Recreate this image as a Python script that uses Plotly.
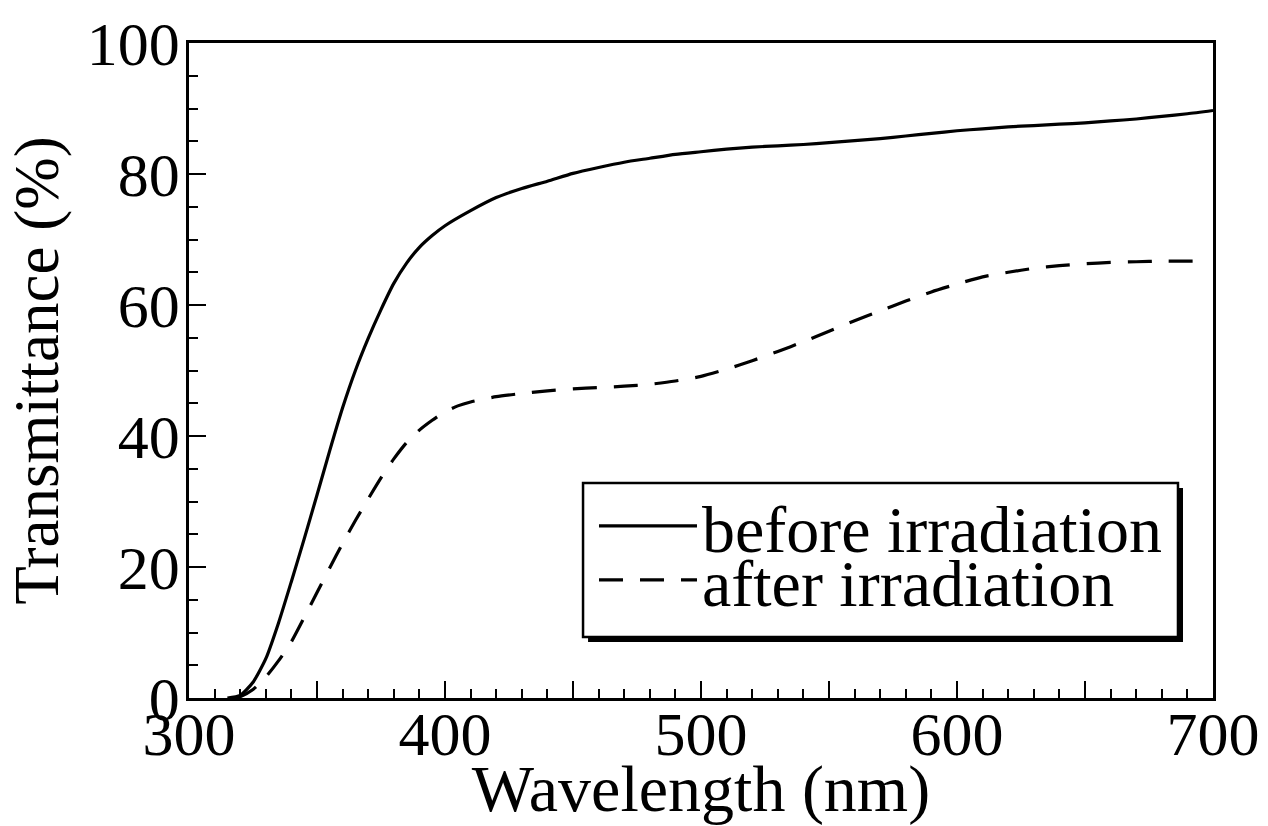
import plotly.graph_objects as go

# ---- data ----
wl_before = [315, 320, 325, 330, 335, 340, 345, 350, 355, 360, 365, 370, 375, 380,
             385, 390, 395, 400, 410, 420, 430, 440, 450, 460, 470, 480, 490, 500,
             510, 520, 530, 540, 550, 560, 570, 580, 590, 600, 610, 620, 630, 640,
             650, 660, 670, 680, 690, 700]
t_before = [0.0, 0.4, 2.4, 6.0, 11.5, 17.8, 24.3, 31.0, 37.8, 44.3, 50.0, 54.9, 59.3, 63.3,
            66.4, 68.8, 70.6, 72.1, 74.4, 76.4, 77.8, 78.9, 80.1, 81.0, 81.8, 82.4, 83.0, 83.4,
            83.8, 84.1, 84.3, 84.5, 84.8, 85.1, 85.4, 85.8, 86.2, 86.6, 86.9, 87.2, 87.4, 87.6,
            87.8, 88.1, 88.4, 88.8, 89.2, 89.7]

wl_after = [318, 320, 325, 330, 335, 340, 345, 350, 355, 360, 365, 370, 375, 380, 385,
            390, 395, 400, 405, 410, 420, 430, 440, 450, 460, 470, 480, 490, 500, 510,
            520, 530, 540, 550, 560, 570, 580, 590, 600, 610, 620, 630, 640, 650, 660,
            670, 680, 690, 695]
t_after = [0.0, 0.2, 1.3, 3.2, 5.7, 8.6, 12.3, 16.1, 19.9, 23.6, 27.1, 30.4, 33.6, 36.5, 39.0,
           40.9, 42.4, 43.7, 44.6, 45.2, 46.0, 46.5, 46.9, 47.2, 47.4, 47.6, 47.9, 48.4, 49.1, 50.2,
           51.5, 52.9, 54.4, 56.0, 57.6, 59.1, 60.6, 62.0, 63.2, 64.3, 65.0, 65.6, 66.0, 66.3, 66.5,
           66.6, 66.7, 66.7, 66.7]

series_names = ["before irradiation", "after irradiation"]

x_tickvals = [300, 350, 400, 450, 500, 550, 600, 650, 700]
x_ticktext = ["300", "", "400", "", "500", "", "600", "", "700"]
y_tickvals = [0, 20, 40, 60, 80, 100]
y_ticktext = ["0", "20", "40", "60", "80", "100"]

FONT = "Liberation Serif, Times New Roman, serif"

fig = go.Figure()
fig.add_trace(go.Scatter(x=wl_before, y=t_before, mode="lines", name=series_names[0],
                         legend="legend",
                         line=dict(color="black", width=3.2, shape="spline", smoothing=0.6)))
fig.add_trace(go.Scatter(x=wl_after, y=t_after, mode="lines", name=series_names[1],
                         legend="legend2",
                         line=dict(color="black", width=3.2, dash="24px,17px",
                                   shape="spline", smoothing=0.6)))

# legend frame with drop shadow
fig.add_shape(type="rect", xref="paper", yref="paper",
              x0=0.3897, x1=0.9707, y0=0.0855, y1=0.3206,
              fillcolor="black", line=dict(width=0), layer="above")
fig.add_shape(type="rect", xref="paper", yref="paper",
              x0=0.3848, x1=0.9658, y0=0.0931, y1=0.3282,
              fillcolor="white", line=dict(color="black", width=2.5), layer="above")

leg_common = dict(xanchor="left", yanchor="middle", bgcolor="rgba(0,0,0,0)",
                  borderwidth=0, font=dict(family=FONT, size=66, color="black"),
                  itemwidth=98, tracegroupgap=0)

fig.update_layout(
    width=1268, height=826,
    margin=dict(l=189, r=55, t=43, b=128),
    paper_bgcolor="white", plot_bgcolor="white",
    font=dict(family=FONT, color="black", size=62),
    showlegend=True,
    legend=dict(x=0.3955, y=0.2626, **leg_common),
    legend2=dict(x=0.3955, y=0.1802, **leg_common),
    xaxis=dict(range=[300, 700], showgrid=False, zeroline=False, automargin=False,
               showline=True, linecolor="black", linewidth=2.5, mirror=True,
               ticks="inside", ticklen=17, tickwidth=2, tickcolor="black",
               tickmode="array", tickvals=x_tickvals, ticktext=x_ticktext,
               ticklabelstandoff=-20,
               tickfont=dict(family=FONT, size=62, color="black"),
               minor=dict(dtick=10, tick0=300, ticks="inside", ticklen=9, tickwidth=2,
                          tickcolor="black", showgrid=False),
               title=dict(text="Wavelength (nm)", font=dict(family=FONT, size=66, color="black"),
                          standoff=10)),
    yaxis=dict(range=[0, 100], showgrid=False, zeroline=False, automargin=False,
               showline=True, linecolor="black", linewidth=2.5, mirror=True,
               ticks="inside", ticklen=17, tickwidth=2, tickcolor="black",
               tickmode="array", tickvals=y_tickvals, ticktext=y_ticktext,
               ticklabelstandoff=-6,
               tickfont=dict(family=FONT, size=62, color="black"),
               minor=dict(dtick=5, tick0=0, ticks="inside", ticklen=9, tickwidth=2,
                          tickcolor="black", showgrid=False),
               title=dict(text="Transmittance (%)", font=dict(family=FONT, size=63, color="black"),
                          standoff=8)),
)

fig.write_html("out.html")
